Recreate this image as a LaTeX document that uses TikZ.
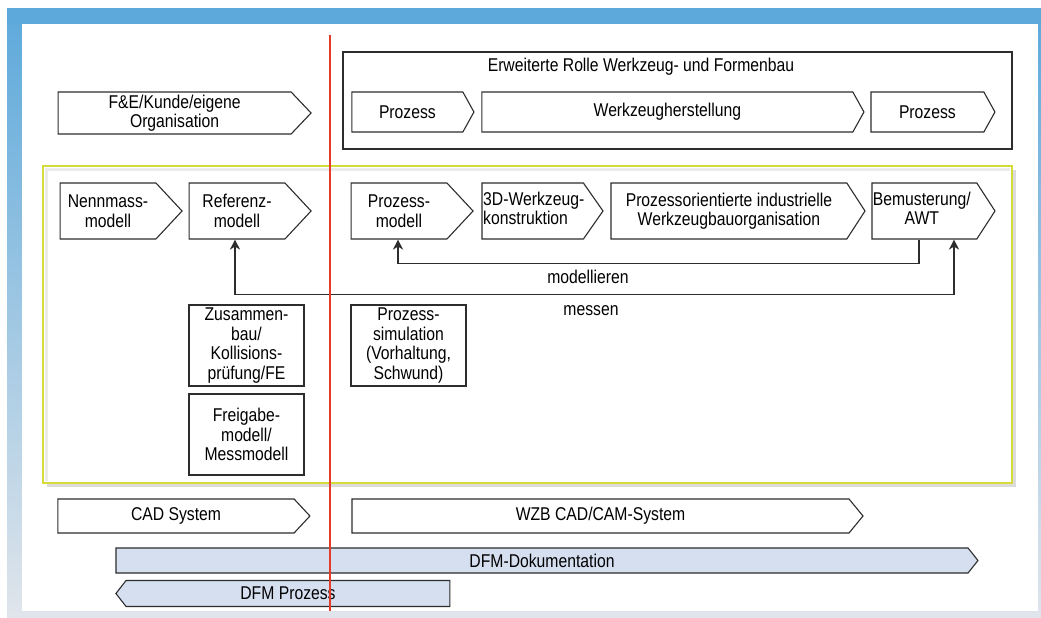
\documentclass[tikz,border=0pt]{standalone}
\usepackage{fontspec}
\setmainfont{Liberation Sans}[FakeStretch=0.85]
\usetikzlibrary{shapes.symbols,arrows.meta}
\definecolor{frameblue}{RGB}{93,169,219}
\definecolor{framegray}{RGB}{224,229,235}
\definecolor{boxline}{RGB}{45,45,45}
\definecolor{yellowline}{RGB}{214,219,60}
\definecolor{redline}{RGB}{228,60,40}
\definecolor{dfmblue}{RGB}{213,223,240}
\newcommand{\lblfont}{\fontsize{18.5}{19.5}\selectfont}
\tikzset{
  proc/.style={signal, signal to=east, draw=boxline, line width=1.1pt, fill=white,
    inner sep=0pt, align=center, font=\lblfont},
  dfm/.style={proc, fill=dfmblue},
  plain/.style={rectangle, draw=boxline, line width=1.1pt, fill=white,
    inner sep=0pt, align=center, font=\lblfont},
  link/.style={draw=boxline, line width=1.5pt},
  >={Stealth[length=10pt,width=10pt,inset=3pt]}
}
\begin{document}
\begin{tikzpicture}[x=1pt, y=-1pt]
  \useasboundingbox (0,0) rectangle (1041,618);
  % frame
  \fill[white] (0,0) rectangle (1041,618);
  \shade[top color=frameblue, bottom color=framegray] (7,9) rectangle (1041,618);
  \fill[frameblue] (7,9) rectangle (1041,24);
  \fill[white] (22,24) rectangle (1038,611);

  % yellow group
  \fill[black!14] (47,170) rectangle (1016,487);
  \draw[yellowline, line width=1.3pt, fill=white] (43,166) rectangle (1012,483);
  \draw[black!8, line width=3pt] (46,481) -- (46,169) -- (1010,169);

  % erweiterte Rolle
  \draw[boxline, line width=1.1pt] (343,52) rectangle (1012,149);
  \node[font=\lblfont, anchor=base] (rolle) at (641,71) {Erweiterte Rolle Werkzeug- und Formenbau};
  \node[proc, minimum width=122, minimum height=40, signal pointer angle=122] (proz1) at (407.4,112) {Prozess};
  \node[proc, minimum width=382, minimum height=40, signal pointer angle=122] (wzh) at (667.4,112) {Werkzeugherstellung};
  \node[proc, minimum width=124, minimum height=40, signal pointer angle=122] (proz2) at (927.4,112) {Prozess};

  \node[proc, minimum width=253, minimum height=42, signal pointer angle=93] (fue) at (174.6,113) {F\&E/Kunde/eigene\\Organisation};

  % modell row
  \node[proc, minimum width=122, minimum height=56, signal pointer angle=94] (nenn) at (108,211) {Nennmass-\\modell};
  \node[proc, minimum width=122, minimum height=56, signal pointer angle=94] (refm) at (237,211) {Referenz-\\modell};
  \node[proc, minimum width=122, minimum height=56, signal pointer angle=94] (pmod) at (399,211) {Prozess-\\modell};
  \node[proc, minimum width=121, minimum height=56, signal pointer angle=110, text width=99, align=left] (kons) at (532.7,211)
    {\begin{tabular}{@{}l@{}}3D-Werkzeug-\\konstruktion\end{tabular}};
  \node[proc, minimum width=254, minimum height=56, signal pointer angle=114] (porg) at (728.9,211) {Prozessorientierte industrielle\\Werkzeugbauorganisation};
  \node[proc, minimum width=123, minimum height=56, signal pointer angle=114, text width=103, align=left] (bemu) at (924.4,211)
    {\begin{tabular}{@{}c@{}}Bemusterung/\\AWT\end{tabular}};

  \draw[link, ->] ([xshift=-5.4pt]bemu.south) -- ++(0,24) -| ([xshift=-1pt]pmod.south);
  \draw[link, <->] ([xshift=-2pt]refm.south) -- ++(0,55) -| ([xshift=29.6pt]bemu.south);
  \node[font=\lblfont, anchor=base] (modl) at (588,283) {modellieren};
  \node[font=\lblfont, anchor=base] (mess) at (591,315) {messen};

  \node[plain, minimum width=115, minimum height=81] (zus) at (246.5,345.5) {Zusammen-\\bau/\\Kollisions-\\prüfung/FE};
  \node[plain, minimum width=115, minimum height=81] (frei) at (246.5,434.5) {Freigabe-\\modell/\\Messmodell};
  \node[plain, minimum width=115, minimum height=81] (psim) at (408.5,345.5) {Prozess-\\simulation\\(Vorhaltung,\\Schwund)};

  % systeme
  \node[proc, minimum width=252, minimum height=34, signal pointer angle=94] (cad) at (176,516) {CAD System};
  \node[proc, minimum width=511, minimum height=34, signal pointer angle=101] (wzb) at (600.5,516) {WZB CAD/CAM-System};
  \node[dfm, minimum width=862, minimum height=25, signal pointer angle=103] (dfmdok) at (542,560.5) {DFM-Dokumentation};
  \node[dfm, signal to=west, minimum width=334, minimum height=26, signal pointer angle=104] (dfmproz) at (288,593.5) {DFM Prozess};

  \draw[redline, line width=1.2pt] (330,35) -- (330,611);
\end{tikzpicture}
\end{document}
